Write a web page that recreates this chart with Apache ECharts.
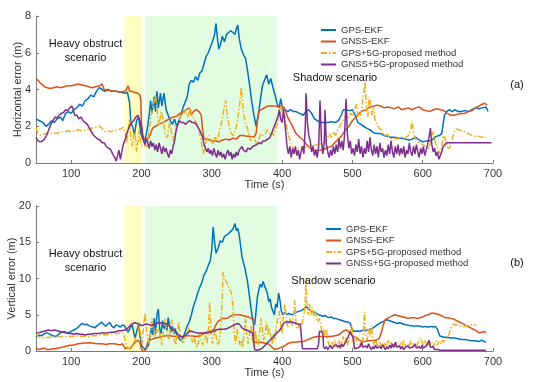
<!DOCTYPE html>
<html><head><meta charset="utf-8">
<script src="https://cdn.jsdelivr.net/npm/echarts@6/dist/echarts.min.js"></script>
<style>html,body{margin:0;padding:0;background:#fff}#c{width:554px;height:382px}</style>
</head><body><div id="c"></div>
<script>
const seriesNames = ['GPS-EKF','GNSS-EKF','GPS+5G-proposed method','GNSS+5G-proposed method'];
const xTicks = [100,200,300,400,500,600,700];
const yellowZone = [176, 201];
const greenZone = [205.5, 393];

// (a) Horizontal error [time s, error m]
const hBlue = [[50,2.4],[55,2.3],[60,2.2],[64,2.0],[68,2.1],[72,2.3],[76,2.2],[80,2.4],[85,2.5],[88,2.3],[92,2.7],[96,2.8],[100,2.7],[104,2.9],[108,3.0],[112,3.2],[116,3.1],[120,3.4],[124,3.5],[128,3.7],[132,3.6],[136,3.9],[140,4.1],[144,4.0],[148,3.9],[152,4.0],[158,3.9],[164,3.9],[170,3.85],[176,3.8],[180,3.85],[183,3.3],[185,2.2],[188,1.9],[190,1.5],[193,2.3],[196,2.5],[199,1.6],[202,1.3],[205,1.2],[208,1.8],[211,2.6],[213,3.4],[215,2.7],[218,3.6],[220,2.8],[222,3.9],[224,3.0],[227,3.8],[229,3.1],[232,3.8],[235,2.9],[238,2.6],[241,2.3],[244,2.1],[247,2.4],[250,2.0],[253,2.3],[256,2.6],[259,3.0],[262,3.3],[265,3.6],[268,4.3],[271,4.5],[274,4.4],[277,4.7],[280,4.5],[283,4.9],[286,5.0],[289,5.4],[292,5.8],[295,6.0],[298,6.3],[301,6.6],[304,7.0],[306,7.6],[308,6.8],[310,6.2],[312,6.4],[315,6.9],[318,6.6],[321,7.0],[324,7.1],[327,7.2],[330,7.1],[333,7.0],[335,7.3],[337,7.5],[339,6.8],[342,6.2],[345,5.9],[348,5.7],[351,5.0],[354,4.2],[357,3.3],[360,2.6],[363,2.0],[366,2.6],[369,3.4],[372,4.2],[375,4.5],[378,4.8],[381,4.3],[384,4.6],[387,4.1],[390,3.7],[393,3.2],[396,3.0],[398,3.5],[401,2.9],[404,2.9],[408,2.8],[412,2.9],[416,2.8],[420,2.8],[425,2.7],[430,2.6],[434,2.8],[438,2.9],[442,2.7],[446,2.4],[450,2.3],[455,2.2],[460,2.2],[465,2.2],[470,2.25],[475,2.2],[480,2.3],[484,2.6],[487,2.9],[491,2.9],[495,2.85],[500,2.9],[504,2.6],[508,2.2],[512,2.1],[516,2.0],[520,1.9],[525,1.8],[530,1.65],[535,1.6],[540,1.6],[545,1.5],[550,1.45],[555,1.4],[560,1.4],[565,1.35],[570,1.35],[575,1.3],[580,1.25],[585,1.3],[590,1.4],[595,1.25],[600,1.15],[605,1.2],[610,1.2],[615,1.3],[619,1.45],[624,1.5],[627,1.6],[629,2.1],[631,2.6],[634,2.8],[638,2.9],[642,2.8],[646,2.9],[650,2.8],[655,2.8],[660,2.85],[665,2.8],[670,2.9],[675,3.0],[680,2.95],[685,3.0],[690,3.05],[693,2.8]];
const hOrange = [[50,4.6],[53,4.5],[56,4.35],[59,4.25],[62,4.15],[66,4.1],[70,4.05],[75,4.1],[80,4.15],[85,4.1],[90,4.15],[95,4.2],[100,4.2],[105,4.25],[110,4.3],[115,4.25],[120,4.2],[125,4.15],[130,4.1],[135,4.15],[140,4.2],[144,4.3],[147,4.0],[150,3.95],[155,3.95],[160,3.9],[165,3.9],[170,3.85],[175,3.9],[178,3.95],[181,4.2],[183,3.9],[186,3.9],[190,3.85],[194,3.8],[197,3.75],[199,3.5],[200,2.2],[202,1.5],[204,1.3],[207,1.3],[210,1.35],[213,1.6],[216,1.9],[220,2.0],[225,2.1],[230,2.2],[235,2.3],[240,2.4],[245,2.5],[250,2.55],[255,2.7],[260,2.8],[264,2.9],[268,3.0],[271,2.6],[274,2.8],[278,2.9],[282,2.8],[285,2.6],[287,1.8],[289,1.3],[293,1.3],[297,1.25],[300,1.2],[305,1.2],[310,1.15],[315,1.25],[320,1.3],[325,1.25],[330,1.35],[335,1.3],[340,1.5],[345,1.5],[350,1.45],[355,1.45],[360,1.4],[363,1.6],[365,2.3],[367,2.8],[370,2.9],[375,3.0],[380,3.1],[385,3.1],[390,3.1],[395,3.05],[400,3.1],[403,3.0],[406,2.7],[409,2.4],[412,2.2],[416,1.9],[420,1.6],[425,1.4],[430,1.25],[435,1.0],[440,0.8],[445,0.7],[450,0.7],[455,0.7],[460,0.75],[465,0.85],[470,0.9],[475,1.1],[480,1.3],[485,1.5],[490,1.8],[495,2.0],[500,2.3],[505,2.5],[510,2.7],[515,2.85],[520,2.9],[525,3.05],[530,3.1],[535,3.15],[540,3.1],[545,3.0],[550,3.05],[555,3.0],[560,2.95],[565,3.05],[570,2.9],[575,2.95],[580,3.0],[585,2.9],[590,3.0],[595,3.05],[600,2.9],[605,2.85],[610,2.8],[615,2.9],[620,2.95],[625,2.9],[630,2.85],[635,2.7],[640,2.6],[645,2.6],[650,2.65],[655,2.7],[660,2.7],[665,2.8],[670,2.85],[675,3.0],[680,3.1],[685,3.2],[688,3.25],[692,3.15]];
const hYellow = [[50,1.9],[53,1.6],[56,1.5],[60,1.55],[65,1.6],[70,1.6],[75,1.65],[80,1.6],[85,1.7],[90,1.7],[95,1.75],[100,1.7],[105,1.75],[110,1.8],[115,1.75],[120,1.8],[125,1.85],[130,1.9],[135,1.95],[140,2.0],[144,1.9],[148,1.7],[152,1.75],[156,1.7],[160,1.75],[165,1.8],[170,1.85],[174,1.95],[177,1.6],[179,1.1],[181,1.8],[183,2.4],[185,1.4],[187,0.9],[189,1.5],[191,1.7],[193,0.6],[195,1.2],[197,1.8],[199,1.0],[202,0.9],[205,0.95],[208,0.9],[211,1.8],[214,2.6],[217,3.2],[220,3.7],[223,2.6],[225,2.0],[228,2.8],[231,2.4],[234,1.5],[237,1.4],[240,2.2],[243,1.6],[245,1.2],[248,1.7],[251,2.1],[254,2.4],[257,2.7],[260,2.6],[263,2.9],[266,2.5],[269,3.0],[272,2.6],[275,2.4],[278,2.2],[281,1.9],[284,1.4],[286,0.9],[288,0.5],[290,0.8],[293,1.3],[296,1.5],[299,1.2],[302,1.0],[305,1.4],[308,1.2],[311,1.8],[314,2.2],[317,2.9],[320,3.4],[322,2.6],[325,2.0],[328,1.6],[331,1.5],[334,1.8],[337,2.4],[340,3.3],[342,4.1],[344,3.2],[346,2.5],[349,2.1],[352,1.7],[355,1.2],[358,1.4],[361,1.3],[364,1.0],[367,1.3],[370,1.6],[373,1.5],[376,1.6],[379,1.8],[382,1.6],[385,1.7],[388,1.5],[391,1.9],[394,2.2],[397,2.8],[399,3.1],[401,2.5],[404,2.6],[407,1.9],[410,1.4],[413,1.0],[416,0.8],[419,0.7],[422,0.8],[426,0.85],[430,0.9],[435,0.85],[440,0.9],[445,0.95],[450,1.0],[455,1.05],[460,1.1],[464,1.3],[467,1.6],[470,1.4],[473,1.7],[476,1.5],[479,1.8],[482,2.0],[485,2.2],[488,2.4],[491,2.6],[494,2.4],[497,2.7],[500,2.6],[503,2.9],[506,3.2],[508,2.6],[511,2.4],[514,3.2],[516,3.8],[518,4.4],[520,3.0],[522,2.5],[524,3.6],[526,3.2],[528,2.6],[530,3.1],[532,2.4],[535,2.1],[538,1.9],[541,1.8],[544,1.6],[547,1.5],[550,1.55],[553,1.4],[556,1.3],[560,1.35],[565,1.3],[570,1.4],[575,1.35],[580,1.5],[583,1.8],[585,2.3],[587,1.6],[590,1.3],[595,1.1],[600,1.0],[605,0.9],[609,0.8],[612,1.2],[615,1.7],[618,1.1],[621,0.8],[624,0.5],[627,0.9],[630,1.5],[633,1.2],[636,0.8],[639,0.85],[642,1.3],[645,1.7],[648,1.85],[652,1.8],[656,1.75],[660,1.7],[665,1.6],[670,1.5],[675,1.45],[680,1.45],[685,1.4],[690,1.4]];
const hPurple = [[50,1.4],[53,1.2],[56,1.15],[59,1.2],[62,1.3],[65,1.5],[68,1.8],[71,2.1],[74,2.3],[77,2.5],[80,2.45],[83,2.6],[86,2.7],[89,2.75],[92,2.9],[95,2.85],[98,3.0],[101,3.1],[103,2.9],[105,2.6],[108,2.6],[111,2.4],[114,2.5],[117,2.3],[120,2.2],[123,2.1],[126,1.9],[129,1.7],[132,1.5],[135,1.4],[138,1.3],[141,1.25],[144,1.1],[147,1.1],[150,0.9],[153,0.8],[156,0.75],[159,0.5],[162,0.3],[164,0.1],[166,0.4],[168,0.7],[170,0.2],[172,0.6],[174,1.0],[177,1.3],[180,1.7],[183,2.0],[186,2.2],[189,2.3],[192,2.5],[195,2.6],[197,2.4],[199,2.1],[201,1.6],[203,1.2],[205,1.0],[207,1.3],[209,1.1],[211,0.8],[213,1.2],[215,0.9],[217,1.1],[219,0.7],[221,1.0],[223,0.6],[225,1.1],[227,0.8],[229,0.5],[231,0.9],[233,0.6],[235,0.8],[237,0.5],[239,0.3],[241,0.7],[243,0.5],[245,0.9],[247,1.2],[249,1.7],[251,2.0],[254,2.3],[257,2.2],[260,2.2],[263,2.1],[266,2.25],[269,2.3],[272,2.2],[275,2.2],[278,2.1],[281,1.9],[284,1.7],[287,1.4],[289,1.0],[291,0.8],[293,0.6],[295,0.8],[297,0.5],[299,0.7],[301,0.4],[303,0.8],[305,0.5],[307,0.3],[309,0.7],[311,0.4],[313,0.6],[315,0.3],[317,0.5],[319,0.2],[321,0.5],[323,0.7],[325,0.4],[327,0.6],[329,0.2],[331,0.5],[333,0.3],[335,0.6],[337,0.4],[339,0.7],[341,0.6],[343,0.9],[345,0.7],[347,0.8],[349,0.6],[351,0.8],[353,0.9],[355,0.75],[358,0.9],[361,0.95],[364,1.0],[367,1.1],[370,1.05],[373,1.2],[376,1.2],[379,1.3],[382,1.35],[385,1.6],[388,1.9],[391,2.2],[394,2.5],[396,2.9],[398,2.4],[400,2.2],[402,2.9],[403,3.0],[405,1.8],[407,0.9],[409,0.5],[411,0.9],[413,0.3],[415,0.8],[417,0.5],[419,0.9],[421,0.4],[423,0.7],[425,0.2],[427,0.6],[429,0.9],[431,0.5],[433,2.0],[434,3.8],[436,2.2],[438,1.5],[440,1.2],[442,0.6],[444,0.9],[446,0.4],[448,0.7],[450,0.3],[452,0.9],[454,3.4],[456,1.2],[458,0.5],[460,1.1],[461,2.9],[463,1.0],[465,0.6],[467,0.3],[469,0.7],[471,0.4],[473,0.9],[475,0.5],[477,1.0],[479,0.6],[481,1.3],[483,0.8],[485,1.2],[487,0.7],[489,1.6],[491,3.5],[493,1.5],[495,0.8],[497,1.2],[499,0.5],[501,0.8],[503,0.4],[505,1.0],[507,0.6],[509,1.3],[511,0.5],[513,0.9],[515,0.3],[517,0.8],[519,0.5],[521,1.2],[523,0.6],[525,1.4],[527,0.7],[529,0.4],[531,1.0],[533,0.5],[535,0.9],[537,0.3],[539,1.1],[541,0.6],[543,0.8],[545,0.3],[547,0.7],[549,0.4],[551,1.0],[553,0.5],[555,1.2],[557,0.6],[559,0.3],[561,0.9],[563,0.5],[565,1.0],[567,0.4],[569,0.8],[571,0.5],[573,0.9],[575,0.3],[577,0.7],[579,0.5],[581,1.1],[583,0.6],[585,0.4],[587,0.9],[589,0.5],[591,1.0],[593,0.6],[595,0.3],[597,0.8],[599,0.5],[601,0.9],[603,0.4],[605,0.7],[607,1.0],[609,1.4],[611,1.9],[613,1.0],[615,0.6],[617,0.8],[619,0.4],[621,0.6],[623,0.2],[625,0.1],[627,0.6],[629,0.9],[631,1.0],[634,1.1],[640,1.1],[650,1.1],[660,1.1],[670,1.1],[680,1.1],[690,1.1],[698,1.1]];

// (b) Vertical error [time s, error m]
const vBlue = [[50,2.0],[54,2.2],[58,2.1],[62,2.4],[66,2.5],[70,2.3],[74,2.1],[78,2.0],[82,2.3],[86,2.6],[90,2.7],[94,2.5],[98,2.6],[102,2.8],[106,3.0],[110,3.3],[113,3.6],[116,3.8],[119,3.6],[122,3.7],[125,3.5],[128,3.4],[131,3.3],[134,3.2],[137,3.5],[140,3.7],[143,4.0],[146,3.7],[149,3.4],[152,3.7],[155,3.9],[158,3.4],[161,3.2],[164,3.6],[167,3.5],[170,3.3],[173,3.6],[176,3.5],[178,3.0],[181,2.6],[184,3.2],[187,3.6],[189,2.5],[191,1.8],[194,3.0],[196,3.6],[198,2.0],[200,0.8],[203,0.4],[206,0.2],[208,0.0],[210,0.8],[212,1.8],[214,3.2],[216,2.2],[218,4.5],[220,2.4],[222,5.0],[224,5.8],[226,3.0],[228,2.4],[230,4.2],[232,3.0],[234,3.8],[236,2.8],[238,4.6],[240,3.5],[242,2.6],[244,3.4],[246,2.4],[248,3.1],[250,2.2],[253,1.8],[256,1.4],[259,1.8],[262,2.6],[265,3.4],[268,4.0],[271,5.0],[274,6.2],[277,7.0],[280,8.0],[283,8.8],[286,9.5],[289,10.5],[292,11.0],[295,11.8],[298,12.5],[300,14.0],[302,17.1],[304,15.0],[306,13.5],[309,14.2],[312,15.2],[315,15.0],[318,15.8],[321,16.0],[324,16.2],[327,16.5],[330,16.8],[333,17.6],[335,16.6],[337,16.9],[339,16.0],[341,14.5],[343,13.0],[345,12.2],[347,11.5],[349,10.5],[351,9.5],[353,8.0],[355,6.5],[357,5.0],[359,4.0],[361,3.6],[363,5.5],[365,7.5],[367,8.5],[369,9.2],[371,8.8],[373,9.6],[375,9.0],[377,8.5],[379,8.0],[381,6.8],[383,7.2],[385,6.0],[387,5.5],[389,5.0],[391,6.5],[393,6.0],[395,8.0],[397,7.0],[399,5.5],[401,5.0],[404,5.3],[407,5.0],[410,5.2],[413,5.0],[416,5.1],[419,5.3],[422,5.4],[425,5.5],[428,5.6],[431,5.8],[434,6.1],[437,5.9],[440,5.6],[443,5.5],[446,5.3],[449,5.2],[452,5.0],[455,4.9],[458,4.8],[461,4.9],[464,4.7],[467,4.6],[470,4.7],[473,4.5],[476,4.5],[479,4.4],[482,4.3],[485,4.2],[488,4.1],[491,4.0],[494,4.0],[497,3.8],[499,3.2],[501,2.8],[504,2.7],[507,2.8],[510,2.7],[513,2.8],[516,2.9],[519,2.8],[522,2.9],[525,3.0],[528,3.1],[531,3.3],[534,3.5],[537,3.7],[540,3.9],[543,4.0],[546,4.2],[549,4.3],[552,4.2],[555,4.1],[558,4.0],[561,3.9],[564,3.8],[567,3.9],[570,3.8],[573,3.7],[576,3.6],[579,3.6],[582,3.5],[585,3.5],[588,3.4],[591,3.5],[594,3.4],[597,3.4],[600,3.3],[603,3.4],[606,3.3],[609,3.3],[612,3.4],[615,3.3],[618,3.4],[621,3.0],[624,2.1],[627,2.0],[630,1.9],[635,1.9],[640,1.8],[645,1.8],[650,1.7],[655,1.6],[660,1.6],[665,1.5],[670,1.4],[675,1.4],[680,1.3],[684,1.5],[688,1.3],[690,1.2]];
const vOrange = [[50,0.4],[54,0.2],[58,0.3],[62,0.4],[66,0.2],[70,0.2],[74,0.3],[78,0.3],[82,0.4],[86,0.5],[90,0.6],[94,0.7],[98,0.8],[102,0.8],[106,0.9],[110,1.0],[114,1.05],[118,1.1],[122,1.1],[126,1.15],[130,1.1],[134,1.05],[138,1.0],[142,1.0],[146,0.95],[150,0.9],[154,1.0],[158,1.0],[162,1.0],[166,0.9],[170,0.85],[173,1.0],[175,1.0],[177,0.3],[180,0.5],[183,0.3],[186,0.6],[189,1.0],[192,1.3],[195,1.5],[198,1.1],[200,0.3],[202,0.0],[205,0.0],[207,0.6],[209,1.2],[212,1.5],[215,1.6],[220,1.8],[225,1.9],[230,2.0],[235,2.1],[240,2.1],[245,2.05],[250,2.0],[255,1.95],[260,2.0],[265,2.1],[270,2.1],[275,2.05],[280,2.0],[285,2.2],[290,2.5],[295,2.7],[300,2.8],[303,3.0],[306,3.6],[309,4.1],[312,4.3],[316,4.5],[320,4.5],[324,4.6],[328,4.9],[332,5.0],[336,5.0],[340,5.0],[344,4.9],[348,4.8],[352,4.7],[356,4.5],[359,4.5],[360,1.2],[365,1.2],[370,1.2],[375,1.1],[380,1.0],[384,0.7],[387,0.4],[390,0.2],[394,0.3],[398,0.5],[402,0.6],[406,0.9],[410,1.1],[415,1.2],[420,1.2],[425,1.3],[430,1.3],[435,1.5],[440,1.7],[445,1.9],[450,2.0],[455,2.0],[460,2.0],[465,2.0],[470,2.0],[475,2.1],[480,2.2],[484,2.5],[488,2.8],[491,2.9],[494,2.7],[497,2.4],[500,2.1],[503,1.9],[506,1.8],[510,1.5],[514,1.3],[518,1.3],[522,1.4],[526,1.4],[530,1.5],[534,1.5],[538,1.7],[541,2.5],[543,3.2],[546,4.2],[549,4.5],[552,4.6],[556,4.8],[560,5.0],[564,4.9],[568,4.8],[572,4.7],[576,4.6],[580,4.5],[584,4.6],[588,4.6],[592,4.5],[596,4.6],[600,4.7],[604,4.9],[608,5.0],[612,5.2],[616,5.2],[620,5.1],[624,5.0],[628,4.8],[632,4.6],[636,4.6],[640,4.5],[644,4.4],[648,4.2],[652,4.0],[656,3.8],[660,3.6],[664,3.4],[668,3.2],[672,3.0],[676,2.8],[680,2.5],[684,2.6],[688,2.7],[690,2.5]];
const vYellow = [[50,2.4],[53,2.0],[56,1.9],[60,1.8],[65,1.85],[70,1.9],[75,1.9],[80,2.0],[85,1.95],[90,2.0],[95,2.0],[100,2.05],[105,2.0],[110,2.1],[115,2.05],[120,2.0],[125,2.0],[130,2.1],[135,2.1],[140,2.2],[145,2.2],[150,2.25],[155,2.3],[160,2.4],[165,2.4],[170,2.5],[174,2.5],[176,1.8],[178,1.0],[180,0.5],[183,0.3],[186,0.4],[189,1.2],[192,1.8],[195,2.5],[197,3.5],[199,2.0],[201,1.0],[203,3.5],[205,5.2],[207,3.0],[209,1.8],[211,1.0],[213,2.5],[215,4.5],[217,3.0],[219,2.0],[221,3.2],[223,2.5],[225,3.0],[227,1.8],[229,0.8],[231,2.5],[233,4.5],[235,3.5],[237,2.2],[239,1.5],[241,3.0],[243,4.3],[245,3.5],[247,1.5],[249,0.8],[251,2.5],[253,4.0],[255,2.2],[257,1.5],[259,1.0],[261,1.5],[263,2.3],[265,2.8],[267,3.2],[269,2.5],[271,1.8],[273,1.2],[275,2.0],[277,1.0],[279,0.5],[281,1.2],[283,2.5],[285,1.5],[287,0.8],[289,1.5],[291,2.2],[293,1.0],[295,2.5],[297,6.8],[299,2.5],[301,1.0],[303,2.0],[305,3.0],[307,1.5],[309,0.8],[311,1.5],[313,3.5],[315,7.5],[316,10.9],[318,10.0],[321,9.5],[323,9.0],[326,8.4],[328,8.0],[330,6.3],[332,2.5],[334,1.0],[336,3.0],[338,2.0],[340,0.8],[342,1.5],[344,0.5],[346,2.5],[348,4.5],[350,2.0],[352,1.0],[354,2.5],[356,3.5],[358,1.5],[360,1.0],[362,2.8],[364,1.2],[366,0.8],[368,2.5],[370,4.5],[372,3.0],[374,1.5],[376,2.5],[378,4.0],[380,2.2],[382,3.2],[384,2.0],[386,1.0],[388,2.5],[390,1.5],[392,3.5],[394,4.5],[396,5.5],[398,3.5],[400,2.5],[402,5.0],[404,6.5],[406,4.5],[408,3.2],[410,3.8],[412,4.5],[414,3.5],[416,4.8],[418,7.0],[420,3.5],[422,3.0],[424,3.5],[426,4.0],[428,3.5],[430,4.5],[432,5.5],[433,7.0],[434,10.0],[435,7.0],[437,5.0],[439,6.5],[441,5.0],[443,6.0],[445,4.8],[447,5.5],[449,4.5],[451,4.0],[453,4.5],[455,3.5],[457,2.5],[459,3.0],[461,2.2],[463,3.0],[465,1.5],[467,0.8],[469,0.5],[471,1.2],[473,0.8],[475,1.5],[477,0.6],[479,1.0],[481,1.5],[483,0.8],[485,1.2],[487,2.0],[489,1.0],[491,1.8],[493,0.8],[495,1.5],[497,2.8],[499,3.5],[501,1.5],[503,1.0],[505,2.0],[507,0.8],[509,0.5],[511,1.0],[513,0.6],[515,1.5],[517,5.4],[519,2.0],[521,1.5],[523,3.0],[525,2.0],[527,3.5],[529,1.5],[531,0.8],[533,1.5],[535,1.0],[537,0.5],[539,1.2],[541,0.6],[543,1.0],[545,0.5],[547,1.2],[549,0.8],[551,1.5],[553,0.7],[555,1.2],[557,0.5],[559,1.0],[561,0.6],[563,1.3],[565,0.8],[567,0.5],[569,1.2],[571,0.6],[573,1.5],[575,0.8],[577,0.5],[579,1.0],[581,0.6],[583,1.4],[585,0.8],[587,0.5],[589,1.2],[591,0.6],[593,1.0],[595,1.5],[597,1.8],[599,1.2],[601,0.8],[603,1.5],[605,1.0],[607,0.6],[609,1.4],[611,0.8],[613,1.2],[615,0.6],[617,1.0],[619,1.4],[621,0.8],[623,1.3],[625,1.0],[627,1.5],[629,1.2],[631,1.6],[633,1.4],[635,1.8],[637,2.2],[639,2.8],[641,3.4],[644,3.7],[648,3.6],[652,3.5],[656,3.4],[660,3.4],[664,3.5],[668,3.6],[672,3.7],[676,3.6]];
const vPurple = [[50,2.4],[53,2.5],[56,2.6],[60,2.7],[64,2.8],[68,2.9],[72,2.8],[76,2.9],[80,2.8],[84,2.7],[88,2.6],[92,2.5],[96,2.4],[100,2.4],[104,2.3],[108,2.4],[112,2.3],[116,2.3],[120,2.2],[124,2.3],[128,2.3],[132,2.4],[136,2.4],[140,2.4],[144,2.5],[148,2.5],[152,2.5],[156,2.6],[160,2.6],[164,2.7],[168,2.8],[172,2.8],[176,2.9],[179,3.0],[182,3.3],[185,3.6],[188,3.8],[191,3.9],[194,3.8],[197,3.7],[200,3.5],[203,3.6],[206,3.7],[209,3.7],[212,3.6],[215,3.5],[218,3.7],[221,3.8],[224,3.9],[227,3.9],[230,3.8],[233,3.8],[236,3.7],[239,3.5],[242,3.3],[245,3.0],[248,2.7],[251,2.4],[254,2.1],[257,2.0],[260,2.0],[263,2.2],[266,2.5],[269,2.8],[272,2.7],[275,2.6],[278,2.5],[282,2.5],[286,2.5],[290,2.5],[294,2.5],[298,2.6],[302,2.7],[306,2.9],[310,3.0],[314,3.0],[318,3.0],[322,3.1],[326,3.3],[330,3.5],[334,3.7],[337,3.8],[340,3.6],[343,3.2],[346,3.0],[349,2.9],[352,2.8],[355,2.6],[358,2.5],[360,2.4],[361,0.2],[364,0.1],[368,0.2],[372,0.4],[376,0.8],[380,1.2],[384,1.6],[388,2.0],[392,2.4],[396,2.8],[399,3.2],[402,3.8],[405,4.0],[408,4.0],[411,4.0],[414,4.0],[417,3.9],[420,3.8],[423,3.7],[426,3.6],[428,3.6],[429,0.3],[435,0.3],[440,0.3],[445,0.3],[450,0.3],[452,1.0],[453,2.7],[456,2.7],[458,2.4],[459,0.6],[461,0.3],[463,0.6],[465,0.2],[467,0.4],[469,0.8],[471,0.3],[473,0.6],[475,0.4],[477,0.9],[479,0.5],[481,0.8],[483,0.4],[485,1.0],[487,0.6],[489,1.0],[491,1.3],[493,1.5],[495,2.2],[497,2.7],[499,2.5],[501,1.8],[503,0.3],[505,0.2],[507,0.4],[509,0.2],[511,0.6],[513,1.2],[515,0.5],[517,0.3],[519,0.7],[521,0.4],[523,1.0],[525,0.5],[527,0.2],[529,0.6],[531,0.3],[533,0.8],[535,0.4],[537,0.2],[539,0.6],[541,0.3],[543,0.9],[545,0.5],[547,0.2],[549,0.6],[551,0.3],[553,0.8],[555,0.4],[557,1.0],[559,0.5],[561,1.2],[563,0.5],[565,0.3],[567,0.7],[569,0.3],[571,0.6],[573,0.2],[575,0.5],[577,0.3],[579,0.7],[581,0.4],[583,0.2],[585,0.5],[587,0.3],[589,0.9],[591,0.4],[593,0.2],[595,0.6],[597,0.3],[599,0.8],[601,0.4],[603,0.2],[605,0.7],[607,1.0],[609,1.5],[611,0.5],[613,0.3],[615,0.6],[617,0.2],[619,0.4],[621,0.2],[623,0.3],[625,0.1],[630,0.1],[640,0.1],[650,0.1],[660,0.1],[670,0.1],[680,0.1],[690,0.1]];

const colors = ['#0072BD','#D95319','#EDB120','#7E2F8E'];
const lineTypes = ['solid','solid',[6,2,1.5,2],'solid'];
const axisGray = '#7a7a7a';
const txt = '#333';
const font = 'Liberation Sans, Arial, sans-serif';

function xAx(gi){
  return {type:'value', gridIndex:gi, min:50, max:700, name:'Time (s)', nameLocation:'middle', nameGap:16, nameMoveOverlap:false,
    nameTextStyle:{fontSize:11, color:txt, fontFamily:font},
    axisLine:{show:true, onZero:false, lineStyle:{color:axisGray, width:1}},
    axisTick:{show:true, inside:true, length:3, customValues:xTicks, lineStyle:{color:axisGray}},
    axisLabel:{fontSize:11, color:txt, margin:5, fontFamily:font, customValues:xTicks},
    splitLine:{show:false}};
}
function yAx(gi, max, step, name, gap){
  return {type:'value', gridIndex:gi, min:0, max:max, interval:step, name:name, nameLocation:'middle', nameGap:gap, nameMoveOverlap:false,
    nameTextStyle:{fontSize:11, color:txt, fontFamily:font},
    axisLine:{show:true, lineStyle:{color:axisGray, width:1}},
    axisTick:{show:true, inside:true, length:3, lineStyle:{color:axisGray}},
    axisLabel:{fontSize:11, color:txt, margin:5, fontFamily:font},
    splitLine:{show:false}};
}
function shadeSeries(gi){
  return {type:'line', xAxisIndex:gi, yAxisIndex:gi, data:[], silent:true, z:1,
    markArea:{silent:true, data:[
      [{xAxis:yellowZone[0], itemStyle:{color:'#FFFCC0'}},{xAxis:yellowZone[1]}],
      [{xAxis:greenZone[0], itemStyle:{color:'#E2FCE2'}},{xAxis:greenZone[1]}]
    ]}};
}
function lineSeries(gi, idx, data){
  return {type:'line', name:seriesNames[idx], xAxisIndex:gi, yAxisIndex:gi, data:data, showSymbol:false, symbol:'none',
    z:3+idx, animation:false, color:colors[idx],
    lineStyle:{color:colors[idx], width:1.5, type:lineTypes[idx]}};
}
function legend(top, left){
  return {orient:'vertical', top:top, left:left, itemWidth:15, itemHeight:10, itemGap:1.5, padding:0,
    itemStyle:{opacity:0, borderWidth:0},
    textStyle:{fontSize:9.5, color:txt, fontFamily:font}, data:seriesNames, selectedMode:false};
}
function txtEl(x, y, text){
  return {type:'text', x:x, y:y, z:100, silent:true,
    style:{text:text, font:'11px '+font, fill:'#111', align:'center', verticalAlign:'middle', textAlign:'center', textVerticalAlign:'middle'}};
}

const chart = echarts.init(document.getElementById('c'), null, {renderer:'canvas'});
const gridBase = {containLabel:false, outerBoundsMode:'none'};
chart.setOption({
  animation:false,
  backgroundColor:'#fff',
  grid:[Object.assign({left:36, top:16, width:457, height:147}, gridBase), Object.assign({left:36, top:206, width:457, height:145}, gridBase)],
  xAxis:[xAx(0), xAx(1)],
  yAxis:[yAx(0, 8, 2, 'Horizontal error (m)', 13), yAx(1, 20, 5, 'Vertical error (m)', 18.5)],
  legend:[legend(25, 320), legend(224, 325)],
  series:[
    shadeSeries(0),
    lineSeries(0,0,hBlue), lineSeries(0,1,hOrange), lineSeries(0,2,hYellow), lineSeries(0,3,hPurple),
    shadeSeries(1),
    lineSeries(1,0,vBlue), lineSeries(1,1,vOrange), lineSeries(1,2,vYellow), lineSeries(1,3,vPurple)
  ],
  graphic:[
    txtEl(85.5, 44, 'Heavy obstruct'),
    txtEl(85.5, 57.5, 'scenario'),
    txtEl(85.5, 254, 'Heavy obstruct'),
    txtEl(85.5, 268, 'scenario'),
    txtEl(335, 78, 'Shadow scenario'),
    txtEl(333.5, 281, 'Shadow scenario'),
    txtEl(517, 85, '(a)'),
    txtEl(517, 263, '(b)')
  ]
});
</script></body></html>
